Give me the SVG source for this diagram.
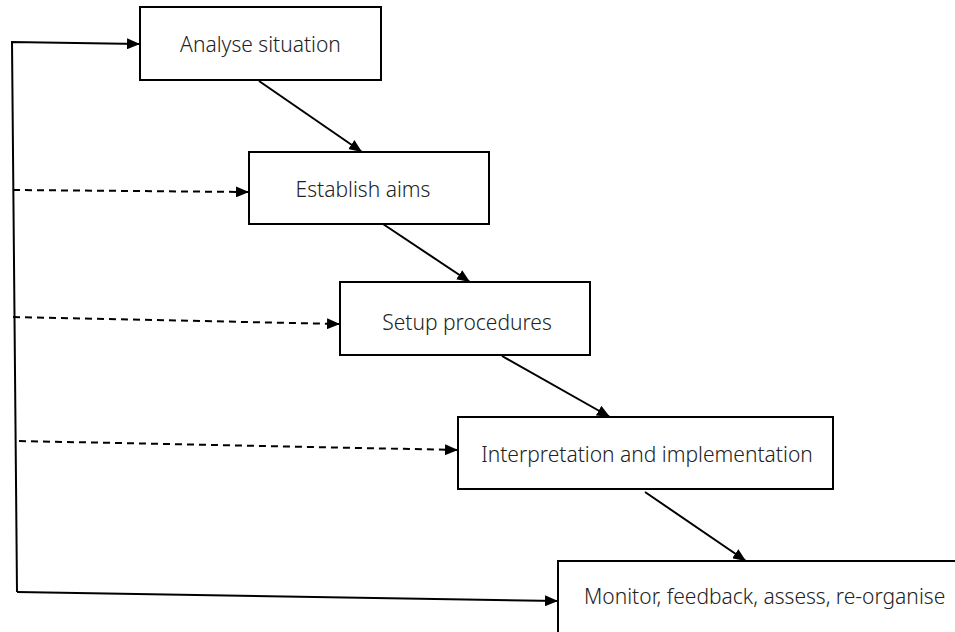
<svg xmlns="http://www.w3.org/2000/svg" width="955" height="632" viewBox="0 0 955 632">
<defs>
<marker id="ah" viewBox="0 0 13 11" refX="13" refY="5.5" markerWidth="13" markerHeight="11" markerUnits="userSpaceOnUse" orient="auto">
<path d="M0,0 L13,5.5 L0,11 Z" fill="#000"/>
</marker>
</defs>
<style>
.box{fill:#fff;stroke:#000;stroke-width:2}
.lbl{font-family:"Noto Sans","Open Sans",sans-serif;font-size:21px;fill:#222;font-weight:300}
.ln{fill:none;stroke:#000;stroke-width:2}
.dash{fill:none;stroke:#000;stroke-width:2;stroke-dasharray:7,5}
</style>
<rect width="955" height="632" fill="#fff"/>
<g id="connectors">
<polyline class="ln" points="17,592 12,42 140,44" marker-end="url(#ah)"/>
<line class="ln" x1="17" y1="592" x2="558" y2="601" marker-end="url(#ah)"/>
<line class="dash" x1="13" y1="190" x2="249" y2="192" marker-end="url(#ah)"/>
<line class="dash" x1="13" y1="317" x2="340" y2="324" marker-end="url(#ah)"/>
<line class="dash" x1="19" y1="441" x2="458" y2="450" marker-end="url(#ah)"/>
<line class="ln" x1="259" y1="81" x2="362" y2="152" marker-end="url(#ah)"/>
<line class="ln" x1="383" y1="224" x2="470" y2="282" marker-end="url(#ah)"/>
<line class="ln" x1="502" y1="356" x2="610" y2="417" marker-end="url(#ah)"/>
<line class="ln" x1="645" y1="492" x2="746" y2="561" marker-end="url(#ah)"/>
</g>
<g id="n1">
<rect class="box" x="140" y="7" width="241" height="73"/>
<text class="lbl" x="260.5" y="52" text-anchor="middle">Analyse situation</text>
</g>
<g id="n2">
<rect class="box" x="249" y="152" width="240" height="72"/>
<text class="lbl" x="363" y="197" text-anchor="middle">Establish aims</text>
</g>
<g id="n3">
<rect class="box" x="340" y="282" width="250" height="73"/>
<text class="lbl" x="467" y="330" text-anchor="middle">Setup procedures</text>
</g>
<g id="n4">
<rect class="box" x="458" y="417" width="375" height="72"/>
<text class="lbl" x="647" y="462" text-anchor="middle">Interpretation and implementation</text>
</g>
<g id="n5">
<path class="ln" d="M558,632 L558,561 L955,561"/>
<text class="lbl" x="584" y="604">Monitor, feedback, assess, re-organise</text>
</g>
</svg>
